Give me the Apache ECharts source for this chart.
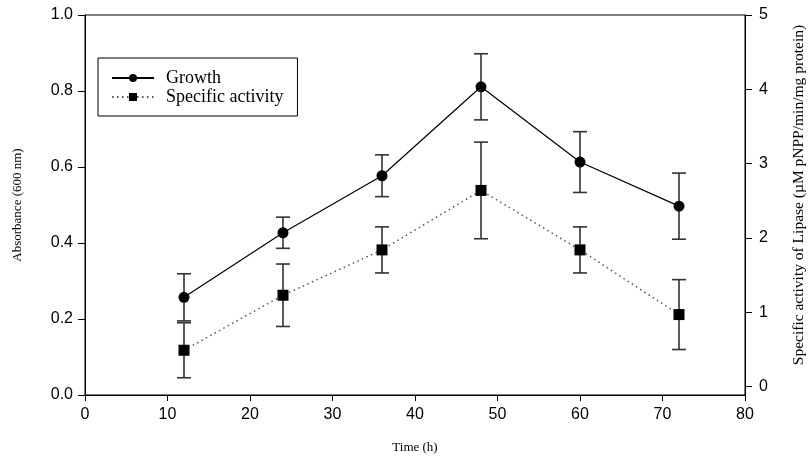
<!DOCTYPE html>
<html>
<head>
<meta charset="utf-8">
<script src="https://cdn.jsdelivr.net/npm/echarts@6/dist/echarts.min.js"></script>
<style>
  html, body { margin: 0; padding: 0; background: #fff; }
  #chart { width: 811px; height: 458px; }
</style>
</head>
<body>
<div id="chart"></div>
<script>
var times = [12, 24, 36, 48, 60, 72];
var growth = [0.257, 0.427, 0.577, 0.811, 0.613, 0.497];
var growthErr = [0.062, 0.041, 0.055, 0.087, 0.080, 0.087];
var activity = [0.49, 1.23, 1.84, 2.64, 1.84, 0.97];
var activityErr = [0.37, 0.42, 0.31, 0.65, 0.31, 0.47];
var rightTicks = [0, 1, 2, 3, 4, 5];

var serif = 'Liberation Serif';
var sans = 'Liberation Sans';

function pairs(ys) {
    return times.map(function (t, i) { return [t, ys[i]]; });
}
function errs(ys, es) {
    return times.map(function (t, i) { return [t, ys[i] - es[i], ys[i] + es[i]]; });
}

// vertical error bar with caps
function errRender(params, api) {
    var x = api.value(0);
    var lo = api.coord([x, api.value(1)]);
    var hi = api.coord([x, api.value(2)]);
    var w = 7;
    var st = { stroke: '#333', lineWidth: 1.6 };
    return {
        type: 'group',
        children: [
            { type: 'line', shape: { x1: lo[0], y1: lo[1], x2: hi[0], y2: hi[1] }, style: st },
            { type: 'line', shape: { x1: lo[0] - w, y1: lo[1], x2: lo[0] + w, y2: lo[1] }, style: st },
            { type: 'line', shape: { x1: hi[0] - w, y1: hi[1], x2: hi[0] + w, y2: hi[1] }, style: st }
        ]
    };
}

var chart = echarts.init(document.getElementById('chart'));

var option = {
    animation: false,
    backgroundColor: '#fff',
    grid: {
        left: 85, right: 66, top: 15, bottom: 63,
        outerBoundsMode: 'none',
        containLabel: false,
        show: true, borderColor: '#000', borderWidth: 1
    },
    legend: {
        left: 98, top: 58,
        orient: 'vertical',
        padding: [11, 14, 10, 13],
        itemGap: 1,
        itemWidth: 42, itemHeight: 10,
        borderColor: '#000', borderWidth: 1,
        textStyle: { fontFamily: serif, fontSize: 18, color: '#000', padding: [0, 0, 0, 7] },
        data: ['Growth', 'Specific activity']
    },
    xAxis: {
        type: 'value', min: 0, max: 80, interval: 10,
        name: 'Time (h)', nameLocation: 'middle', nameGap: 46,
        nameTextStyle: { fontFamily: serif, fontSize: 13, color: '#000' },
        axisLine: { lineStyle: { color: '#000', width: 1 } },
        axisTick: { length: 6, lineStyle: { color: '#000' } },
        axisLabel: { margin: 12, fontFamily: sans, fontSize: 16, color: '#000' },
        splitLine: { show: false }
    },
    yAxis: [{
        type: 'value', min: 0, max: 1, interval: 0.2,
        name: 'Absorbance (600 nm)', nameLocation: 'middle', nameGap: 61,
        nameTextStyle: { fontFamily: serif, fontSize: 13, color: '#000' },
        axisLine: { show: true, lineStyle: { color: '#000', width: 1 } },
        axisTick: { show: true, length: 7, lineStyle: { color: '#000' } },
        axisLabel: {
            margin: 12, fontFamily: sans, fontSize: 16, color: '#000',
            formatter: function (v) { return v.toFixed(1); }
        },
        splitLine: { show: false }
    }, {
        type: 'value', min: -0.112, max: 5, position: 'right',
        name: 'Specific activity of Lipase (µM pNPP/min/mg protein)',
        nameLocation: 'middle', nameGap: 46, nameRotate: 90,
        nameTextStyle: { fontFamily: serif, fontSize: 15.5, color: '#000', padding: [0, 0, 0, 20] },
        axisLine: { show: true, lineStyle: { color: '#000', width: 1 } },
        axisTick: { show: true, length: 7, customValues: rightTicks, lineStyle: { color: '#000' } },
        axisLabel: { margin: 14, fontFamily: sans, fontSize: 16, color: '#000', customValues: rightTicks },
        splitLine: { show: false }
    }],
    series: [{
        type: 'custom', name: 'growthErr', z: 1,
        renderItem: errRender,
        encode: { x: 0, y: [1, 2] },
        data: errs(growth, growthErr)
    }, {
        type: 'custom', name: 'activityErr', z: 1, yAxisIndex: 1,
        renderItem: errRender,
        encode: { x: 0, y: [1, 2] },
        data: errs(activity, activityErr)
    }, {
        name: 'Growth', type: 'line', z: 3,
        data: pairs(growth),
        symbol: 'circle', symbolSize: 11,
        itemStyle: { color: '#000' },
        lineStyle: { color: '#000', width: 1.2 }
    }, {
        name: 'Specific activity', type: 'line', z: 3, yAxisIndex: 1,
        data: pairs(activity),
        symbol: 'rect', symbolSize: 11,
        itemStyle: { color: '#000' },
        lineStyle: { color: '#555', width: 1.5, type: [1.5, 3.5] }
    }]
};

chart.setOption(option);
</script>
</body>
</html>
